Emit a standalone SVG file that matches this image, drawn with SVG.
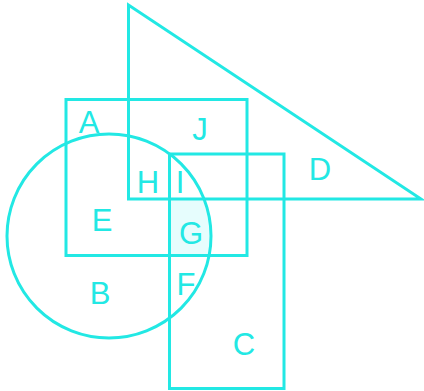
<svg xmlns="http://www.w3.org/2000/svg" width="424" height="391" viewBox="0 0 424 391">
<style>
.s{fill:none;stroke:#22e8e4;stroke-width:3;}
.t{font-family:"Liberation Sans",Arial,sans-serif;font-size:31px;fill:#22e8e4;text-anchor:middle;}
</style>
<defs>
<clipPath id="cc"><circle cx="109" cy="236" r="102"/></clipPath>
</defs>
<rect width="424" height="391" fill="#ffffff"/>
<g id="G-region"><rect x="169.5" y="199" width="77.5" height="57" fill="#e6fdfd" clip-path="url(#cc)"/></g>
<g id="triangle"><polygon class="s" points="128.5,5 128.5,199 421,199"/></g>
<g id="rectA"><rect class="s" x="66" y="99.5" width="181" height="156"/></g>
<g id="rectC"><rect class="s" x="169.5" y="154" width="114.5" height="234.5"/></g>
<g id="circleB"><circle class="s" cx="109" cy="236" r="102"/></g>
<g id="labels">
<text class="t" x="89" y="133">A</text>
<text class="t" x="200" y="140">J</text>
<text class="t" x="148" y="193">H</text>
<text class="t" x="180" y="193">I</text>
<text class="t" x="320" y="180">D</text>
<text class="t" x="102" y="231">E</text>
<text class="t" x="191" y="244">G</text>
<text class="t" x="100" y="304">B</text>
<text class="t" x="186" y="295">F</text>
<text class="t" x="244" y="355">C</text>
</g>
</svg>
